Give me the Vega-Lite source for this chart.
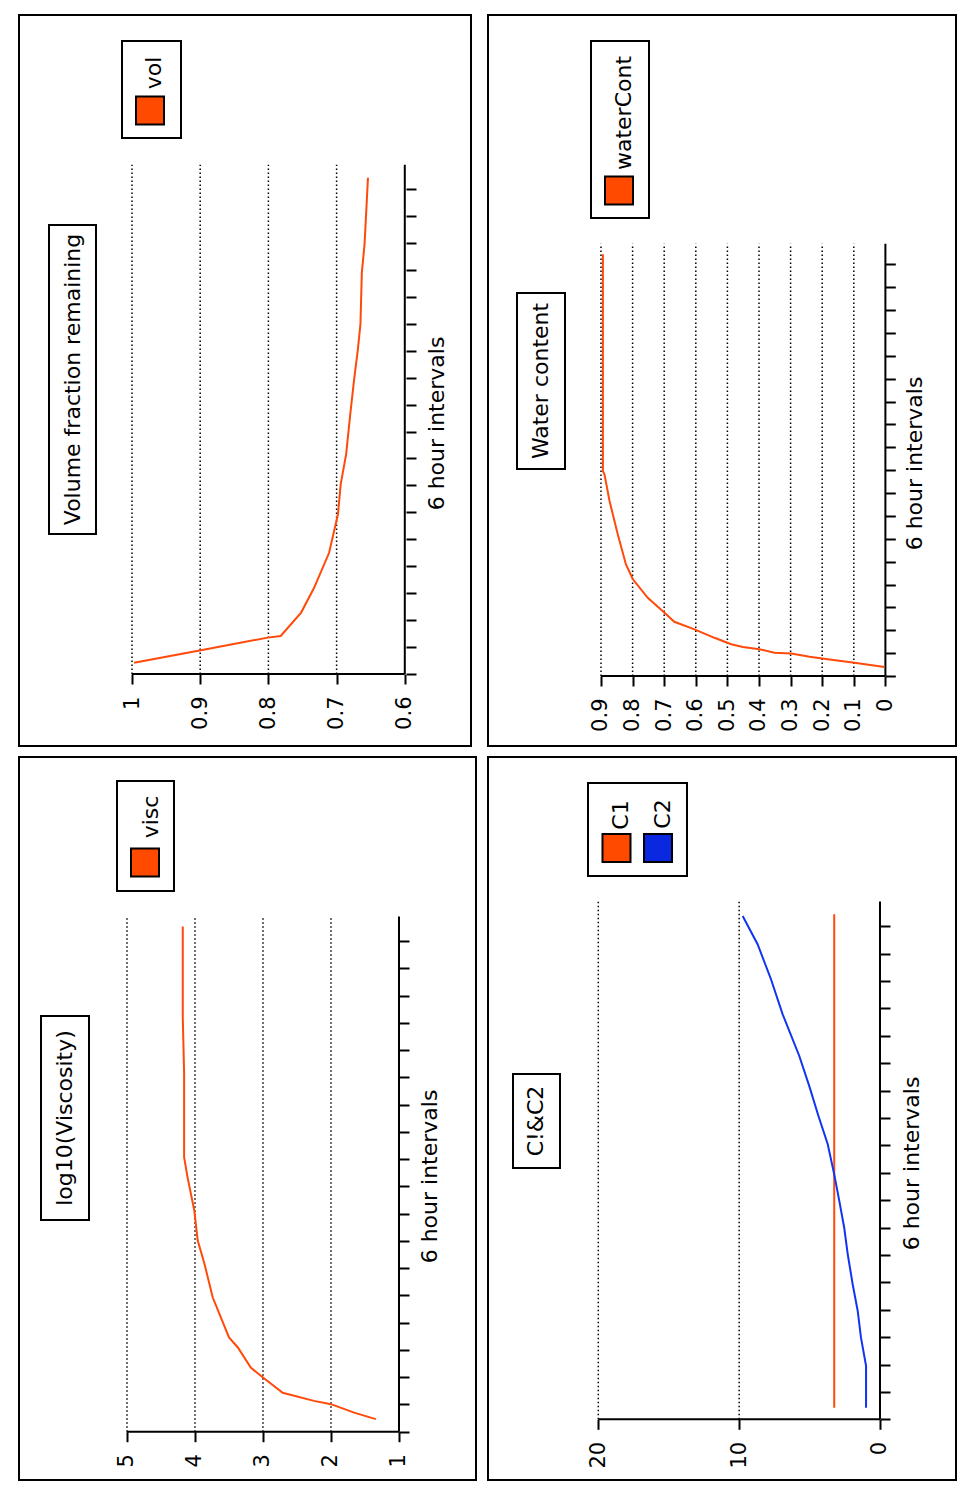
{
  "$schema": "https://vega.github.io/schema/vega-lite/v6.json",
  "background": "white",
  "padding": {"left": 18, "top": 14, "right": 9, "bottom": 7},
  "spacing": 9,
  "config": {
    "view": {"stroke": "black", "strokeWidth": 2, "fill": "white"},
    "axis": {
      "labelFont": "DejaVu Sans", "labelFontSize": 21, "labelColor": "black",
      "tickColor": "black", "tickWidth": 2, "tickSize": 10,
      "titleFont": "DejaVu Sans", "titleFontSize": 22, "titleFontWeight": "normal", "titleColor": "black",
      "grid": false, "domain": false, "labelOverlap": false, "labelFlush": false, "labelBound": false
    },
    "axisX": {"labelAngle": 270, "labelAlign": "right", "labelBaseline": "middle", "labelPadding": 12},
    "axisY": {"labels": false, "titleAngle": 270, "titleAlign": "center", "titleBaseline": "middle"},
    "text": {"font": "DejaVu Sans", "fontSize": 22, "angle": 270, "align": "center", "baseline": "middle", "color": "black"}
  },
  "datasets": {
    "vol": [
      {"t": 0.42, "v": 0.997}, {"t": 0.88, "v": 0.899}, {"t": 1.35, "v": 0.801}, {"t": 1.41, "v": 0.782},
      {"t": 2.28, "v": 0.752}, {"t": 3.2, "v": 0.733}, {"t": 4.5, "v": 0.711}, {"t": 5.93, "v": 0.698},
      {"t": 7.04, "v": 0.694}, {"t": 8.16, "v": 0.686}, {"t": 9.64, "v": 0.68}, {"t": 11.0, "v": 0.674},
      {"t": 12.0, "v": 0.669}, {"t": 13.0, "v": 0.665}, {"t": 14.9, "v": 0.663}, {"t": 15.96, "v": 0.659},
      {"t": 16.94, "v": 0.657}, {"t": 18.42, "v": 0.654}
    ],
    "water": [
      {"t": 0.39, "v": 0.003}, {"t": 0.58, "v": 0.098}, {"t": 0.73, "v": 0.182}, {"t": 0.84, "v": 0.24},
      {"t": 0.98, "v": 0.298}, {"t": 1.02, "v": 0.351}, {"t": 1.17, "v": 0.399}, {"t": 1.27, "v": 0.451},
      {"t": 1.39, "v": 0.488}, {"t": 1.67, "v": 0.541}, {"t": 2.04, "v": 0.604}, {"t": 2.37, "v": 0.668},
      {"t": 2.77, "v": 0.699}, {"t": 3.42, "v": 0.752}, {"t": 4.23, "v": 0.799}, {"t": 4.88, "v": 0.821},
      {"t": 6.2, "v": 0.847}, {"t": 7.65, "v": 0.873}, {"t": 8.82, "v": 0.889}, {"t": 8.96, "v": 0.894},
      {"t": 18.44, "v": 0.894}
    ],
    "visc": [
      {"t": 0.46, "v": 1.34}, {"t": 0.7, "v": 1.66}, {"t": 1.01, "v": 2.0}, {"t": 1.13, "v": 2.25},
      {"t": 1.43, "v": 2.71}, {"t": 1.99, "v": 3.0}, {"t": 2.35, "v": 3.18}, {"t": 3.09, "v": 3.37},
      {"t": 3.46, "v": 3.5}, {"t": 4.19, "v": 3.62}, {"t": 4.93, "v": 3.74}, {"t": 6.15, "v": 3.86},
      {"t": 7.01, "v": 3.96}, {"t": 8.11, "v": 4.01}, {"t": 9.34, "v": 4.11}, {"t": 10.07, "v": 4.16},
      {"t": 11.79, "v": 4.16}, {"t": 13.14, "v": 4.16}, {"t": 15.22, "v": 4.18}, {"t": 18.53, "v": 4.18}
    ],
    "cc": [
      {"series": "C1", "t": 0.42, "v": 3.25}, {"series": "C1", "t": 9.0, "v": 3.25}, {"series": "C1", "t": 18.43, "v": 3.25},
      {"series": "C2", "t": 0.42, "v": 0.99}, {"series": "C2", "t": 1.95, "v": 0.99}, {"series": "C2", "t": 2.98, "v": 1.35},
      {"series": "C2", "t": 3.95, "v": 1.58}, {"series": "C2", "t": 4.93, "v": 1.94}, {"series": "C2", "t": 6.02, "v": 2.29},
      {"series": "C2", "t": 6.99, "v": 2.54}, {"series": "C2", "t": 7.97, "v": 2.89}, {"series": "C2", "t": 8.94, "v": 3.25},
      {"series": "C2", "t": 10.04, "v": 3.71}, {"series": "C2", "t": 11.07, "v": 4.37}, {"series": "C2", "t": 12.16, "v": 5.02},
      {"series": "C2", "t": 13.26, "v": 5.73}, {"series": "C2", "t": 14.78, "v": 6.91}, {"series": "C2", "t": 16.06, "v": 7.74},
      {"series": "C2", "t": 17.34, "v": 8.69}, {"series": "C2", "t": 18.37, "v": 9.75}
    ]
  },
  "vconcat": [
    {
      "hconcat": [
        {
          "width": 452, "height": 731,
          "layer": [
            {
              "data": {"values": [{"g": 1}, {"g": 0.9}, {"g": 0.8}, {"g": 0.7}]},
              "mark": {"type": "rule", "strokeDash": [1.5, 2.5], "strokeWidth": 1.5, "color": "black"},
              "encoding": {
                "x": {"field": "g", "type": "quantitative",
                  "scale": {"domain": [0.50293, 1.16569], "reverse": true, "nice": false, "zero": false},
                  "axis": {"orient": "bottom", "offset": -72, "values": [1, 0.9, 0.8, 0.7, 0.6], "format": "~g", "title": null}},
                "y": {"datum": 0,
                  "scale": {"domain": [-2.6726, 24.4618], "nice": false, "zero": false},
                  "axis": {"orient": "right", "offset": -65, "values": [0,1,2,3,4,5,6,7,8,9,10,11,12,13,14,15,16,17,18], "title": "6 hour intervals", "titleX": 30, "titleY": 408}},
                "y2": {"datum": 18.9}
              }
            },
            {"data": {"values": [{}]}, "mark": {"type": "rule", "color": "black", "strokeWidth": 2},
              "encoding": {"x": {"datum": 1}, "x2": {"datum": 0.6}, "y": {"datum": 0}}},
            {"data": {"values": [{}]}, "mark": {"type": "rule", "color": "black", "strokeWidth": 2},
              "encoding": {"x": {"datum": 0.6}, "y": {"datum": 0}, "y2": {"datum": 18.9}}},
            {"data": {"name": "vol"}, "mark": {"type": "line", "color": "#ff4a0a", "strokeWidth": 2},
              "encoding": {"x": {"field": "v", "type": "quantitative"}, "y": {"field": "t", "type": "quantitative"}, "order": {"field": "t"}}},
            {"data": {"values": [{}]}, "mark": {"type": "rect", "fill": "white", "stroke": "black", "strokeWidth": 2},
              "encoding": {"x": {"datum": 1.1217}, "x2": {"datum": 1.0528}, "y": {"datum": 5.197}, "y2": {"datum": 16.667}}},
            {"data": {"values": [{}]}, "mark": {"type": "text", "text": "Volume fraction remaining"},
              "encoding": {"x": {"datum": 1.0872}, "y": {"datum": 10.932}}},
            {"data": {"values": [{}]}, "mark": {"type": "rect", "fill": "white", "stroke": "black", "strokeWidth": 2},
              "encoding": {"x": {"datum": 1.01466}, "x2": {"datum": 0.92815}, "y": {"datum": 19.896}, "y2": {"datum": 23.497}}},
            {"data": {"values": [{}]}, "mark": {"type": "point", "shape": "square", "size": 784, "filled": true, "fill": "#ff4a00", "stroke": "black", "strokeWidth": 2, "opacity": 1},
              "encoding": {"x": {"datum": 0.97361}, "y": {"datum": 20.917}}},
            {"data": {"values": [{}]}, "mark": {"type": "text", "text": "vol"},
              "encoding": {"x": {"datum": 0.96774}, "y": {"datum": 22.309}}}
          ]
        },
        {
          "width": 468, "height": 731,
          "layer": [
            {
              "data": {"values": [{"g": 0.9}, {"g": 0.8}, {"g": 0.7}, {"g": 0.6}, {"g": 0.5}, {"g": 0.4}, {"g": 0.3}, {"g": 0.2}, {"g": 0.1}]},
              "mark": {"type": "rule", "strokeDash": [1.5, 2.5], "strokeWidth": 1.5, "color": "black"},
              "encoding": {
                "x": {"field": "g", "type": "quantitative",
                  "scale": {"domain": [-0.22342, 1.25759], "reverse": true, "nice": false, "zero": false},
                  "axis": {"orient": "bottom", "offset": -70, "values": [0.9, 0.8, 0.7, 0.6, 0.5, 0.4, 0.3, 0.2, 0.1, 0], "format": "~g", "title": null}},
                "y": {"datum": 0,
                  "scale": {"domain": [-3.0608, 28.9025], "nice": false, "zero": false},
                  "axis": {"orient": "right", "offset": -70.7, "values": [0,1,2,3,4,5,6,7,8,9,10,11,12,13,14,15,16,17,18], "title": "6 hour intervals", "titleX": 29, "titleY": 448}},
                "y2": {"datum": 18.9}
              }
            },
            {"data": {"values": [{}]}, "mark": {"type": "rule", "color": "black", "strokeWidth": 2},
              "encoding": {"x": {"datum": 0.9}, "x2": {"datum": 0}, "y": {"datum": 0}}},
            {"data": {"values": [{}]}, "mark": {"type": "rule", "color": "black", "strokeWidth": 2},
              "encoding": {"x": {"datum": 0}, "y": {"datum": 0}, "y2": {"datum": 18.9}}},
            {"data": {"name": "water"}, "mark": {"type": "line", "color": "#ff4a0a", "strokeWidth": 2},
              "encoding": {"x": {"field": "v", "type": "quantitative"}, "y": {"field": "t", "type": "quantitative"}, "order": {"field": "t"}}},
            {"data": {"values": [{}]}, "mark": {"type": "rect", "fill": "white", "stroke": "black", "strokeWidth": 2},
              "encoding": {"x": {"datum": 1.16582}, "x2": {"datum": 1.01392}, "y": {"datum": 9.051}, "y2": {"datum": 16.747}}},
            {"data": {"values": [{}]}, "mark": {"type": "text", "text": "Water content"},
              "encoding": {"x": {"datum": 1.08987}, "y": {"datum": 12.899}}},
            {"data": {"values": [{}]}, "mark": {"type": "rect", "fill": "white", "stroke": "black", "strokeWidth": 2},
              "encoding": {"x": {"datum": 0.93164}, "x2": {"datum": 0.7481}, "y": {"datum": 20.026}, "y2": {"datum": 27.765}}},
            {"data": {"values": [{}]}, "mark": {"type": "point", "shape": "square", "size": 784, "filled": true, "fill": "#ff4a00", "stroke": "black", "strokeWidth": 2, "opacity": 1},
              "encoding": {"x": {"datum": 0.84303}, "y": {"datum": 21.228}}},
            {"data": {"values": [{}]}, "mark": {"type": "text", "text": "waterCont"},
              "encoding": {"x": {"datum": 0.82721}, "y": {"datum": 24.617}}}
          ]
        }
      ],
      "spacing": 17,
      "bounds": "flush"
    },
    {
      "hconcat": [
        {
          "width": 457, "height": 723,
          "layer": [
            {
              "data": {"values": [{"g": 5}, {"g": 4}, {"g": 3}, {"g": 2}]},
              "mark": {"type": "rule", "strokeDash": [1.5, 2.5], "strokeWidth": 1.5, "color": "black"},
              "encoding": {
                "x": {"field": "g", "type": "quantitative",
                  "scale": {"domain": [-0.1324, 6.5882], "reverse": true, "nice": false, "zero": false},
                  "axis": {"orient": "bottom", "offset": -48.3, "values": [5, 4, 3, 2, 1], "format": "~g", "title": null}},
                "y": {"datum": 0,
                  "scale": {"domain": [-1.7718, 24.7506], "nice": false, "zero": false},
                  "axis": {"orient": "right", "offset": -77, "values": [0,1,2,3,4,5,6,7,8,9,10,11,12,13,14,15,16,17,18], "title": "6 hour intervals", "titleX": 30, "titleY": 419}},
                "y2": {"datum": 18.9}
              }
            },
            {"data": {"values": [{}]}, "mark": {"type": "rule", "color": "black", "strokeWidth": 2},
              "encoding": {"x": {"datum": 5}, "x2": {"datum": 1}, "y": {"datum": 0}}},
            {"data": {"values": [{}]}, "mark": {"type": "rule", "color": "black", "strokeWidth": 2},
              "encoding": {"x": {"datum": 1}, "y": {"datum": 0}, "y2": {"datum": 18.9}}},
            {"data": {"name": "visc"}, "mark": {"type": "line", "color": "#ff4a0a", "strokeWidth": 2},
              "encoding": {"x": {"field": "v", "type": "quantitative"}, "y": {"field": "t", "type": "quantitative"}, "order": {"field": "t"}}},
            {"data": {"values": [{}]}, "mark": {"type": "rect", "fill": "white", "stroke": "black", "strokeWidth": 2},
              "encoding": {"x": {"datum": 6.2647}, "x2": {"datum": 5.5588}, "y": {"datum": 7.766}, "y2": {"datum": 15.249}}},
            {"data": {"values": [{}]}, "mark": {"type": "text", "text": "log10(Viscosity)"},
              "encoding": {"x": {"datum": 5.9117}, "y": {"datum": 11.508}}},
            {"data": {"values": [{}]}, "mark": {"type": "rect", "fill": "white", "stroke": "black", "strokeWidth": 2},
              "encoding": {"x": {"datum": 5.147}, "x2": {"datum": 4.3088}, "y": {"datum": 19.835}, "y2": {"datum": 23.87}}},
            {"data": {"values": [{}]}, "mark": {"type": "point", "shape": "square", "size": 784, "filled": true, "fill": "#ff4a00", "stroke": "black", "strokeWidth": 2, "opacity": 1},
              "encoding": {"x": {"datum": 4.7353}, "y": {"datum": 20.88}}},
            {"data": {"values": [{}]}, "mark": {"type": "text", "text": "visc"},
              "encoding": {"x": {"datum": 4.647}, "y": {"datum": 22.549}}}
          ]
        },
        {
          "width": 468, "height": 723,
          "layer": [
            {
              "data": {"values": [{"g": 20}, {"g": 10}]},
              "mark": {"type": "rule", "strokeDash": [1.5, 2.5], "strokeWidth": 1.5, "color": "black"},
              "encoding": {
                "x": {"field": "g", "type": "quantitative",
                  "scale": {"domain": [-5.396, 27.831], "reverse": true, "nice": false, "zero": false},
                  "axis": {"orient": "bottom", "offset": -60.7, "values": [20, 10, 0], "format": "~g", "title": null}},
                "y": {"datum": 0,
                  "scale": {"domain": [-2.2153, 24.1716], "nice": false, "zero": false},
                  "axis": {"orient": "right", "offset": -76, "values": [0,1,2,3,4,5,6,7,8,9,10,11,12,13,14,15,16,17,18], "title": "6 hour intervals", "titleX": 31, "titleY": 406}},
                "y2": {"datum": 18.9}
              }
            },
            {"data": {"values": [{}]}, "mark": {"type": "rule", "color": "black", "strokeWidth": 2},
              "encoding": {"x": {"datum": 20}, "x2": {"datum": 0}, "y": {"datum": 0}}},
            {"data": {"values": [{}]}, "mark": {"type": "rule", "color": "black", "strokeWidth": 2},
              "encoding": {"x": {"datum": 0}, "y": {"datum": 0}, "y2": {"datum": 18.9}}},
            {"data": {"name": "cc"}, "mark": {"type": "line", "strokeWidth": 2},
              "encoding": {"x": {"field": "v", "type": "quantitative"}, "y": {"field": "t", "type": "quantitative"}, "order": {"field": "t"},
                "color": {"field": "series", "type": "nominal", "scale": {"domain": ["C1", "C2"], "range": ["#ff4a0a", "#1034f0"]}, "legend": null}}},
            {"data": {"values": [{}]}, "mark": {"type": "rect", "fill": "white", "stroke": "black", "strokeWidth": 2},
              "encoding": {"x": {"datum": 26.056}, "x2": {"datum": 22.719}, "y": {"datum": 9.171}, "y2": {"datum": 12.602}}},
            {"data": {"values": [{}]}, "mark": {"type": "text", "text": "C!&C2"},
              "encoding": {"x": {"datum": 24.388}, "y": {"datum": 10.887}}},
            {"data": {"values": [{}]}, "mark": {"type": "rect", "fill": "white", "stroke": "black", "strokeWidth": 2},
              "encoding": {"x": {"datum": 20.731}, "x2": {"datum": 13.703}, "y": {"datum": 19.829}, "y2": {"datum": 23.223}}},
            {"data": {"values": [{}]}, "mark": {"type": "point", "shape": "square", "size": 784, "filled": true, "fill": "#ff4a00", "stroke": "black", "strokeWidth": 2, "opacity": 1},
              "encoding": {"x": {"datum": 18.708}, "y": {"datum": 20.851}}},
            {"data": {"values": [{}]}, "mark": {"type": "point", "shape": "square", "size": 784, "filled": true, "fill": "#0a28e0", "stroke": "black", "strokeWidth": 2, "opacity": 1},
              "encoding": {"x": {"datum": 15.761}, "y": {"datum": 20.851}}},
            {"data": {"values": [{}]}, "mark": {"type": "text", "text": "C1"},
              "encoding": {"x": {"datum": 18.388}, "y": {"datum": 22.055}}},
            {"data": {"values": [{}]}, "mark": {"type": "text", "text": "C2"},
              "encoding": {"x": {"datum": 15.428}, "y": {"datum": 22.091}}}
          ]
        }
      ],
      "spacing": 12,
      "bounds": "flush"
    }
  ]
}
